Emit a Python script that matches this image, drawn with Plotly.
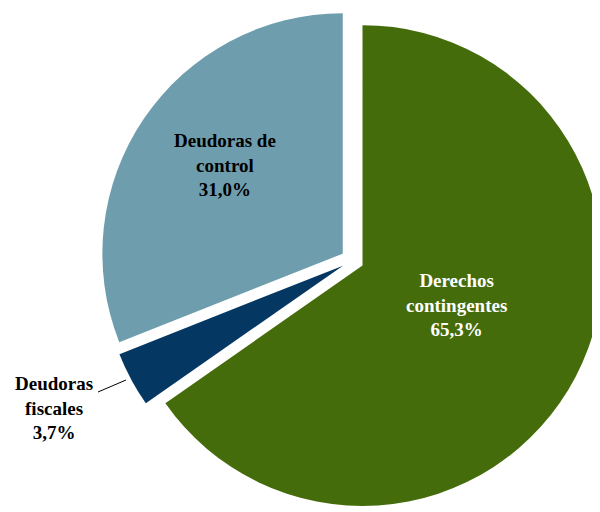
import plotly.graph_objects as go

categories = ["Derechos contingentes", "Deudoras fiscales", "Deudoras de control"]
values = [65.3, 3.7, 31.0]
label_lines = ["Derechos<br>contingentes<br>65,3%", "Deudoras<br>fiscales<br>3,7%", "Deudoras de<br>control<br>31,0%"]
colors = ["#446c0b", "#043862", "#6e9eae"]
pulls = [0.046, 0.046, 0.05]

fig = go.Figure(go.Pie(
    labels=categories,
    values=values,
    sort=False,
    direction="clockwise",
    rotation=0,
    pull=pulls,
    marker=dict(colors=colors, line=dict(width=0)),
    textinfo="none",
    hoverinfo="label+percent",
    domain=dict(x=[0.152, 0.997], y=[0.014, 1.0]),
    showlegend=False,
))

font = dict(family="Liberation Serif, Times New Roman, serif", size=19)
common = dict(xref="paper", yref="paper", showarrow=False, align="center",
              xanchor="center", yanchor="middle")
fig.add_annotation(x=0.748, y=0.420, text="<b>" + label_lines[0] + "</b>",
                   font=dict(font, color="white"), **common)
fig.add_annotation(x=0.362, y=0.693, text="<b>" + label_lines[2] + "</b>",
                   font=dict(font, color="black"), **common)
fig.add_annotation(x=0.0767, y=0.219, text="<b>" + label_lines[1] + "</b>",
                   font=dict(font, color="black"), **common)
# leader line for the small slice label
fig.add_shape(type="line", xref="paper", yref="paper",
              x0=90/600, y0=1-384/512, x1=118/600, y1=1-372/512,
              line=dict(color="black", width=1))

fig.update_layout(
    width=600, height=512,
    margin=dict(l=0, r=0, t=0, b=0),
    paper_bgcolor="white", plot_bgcolor="white",
)
fig.write_html("out.html")
